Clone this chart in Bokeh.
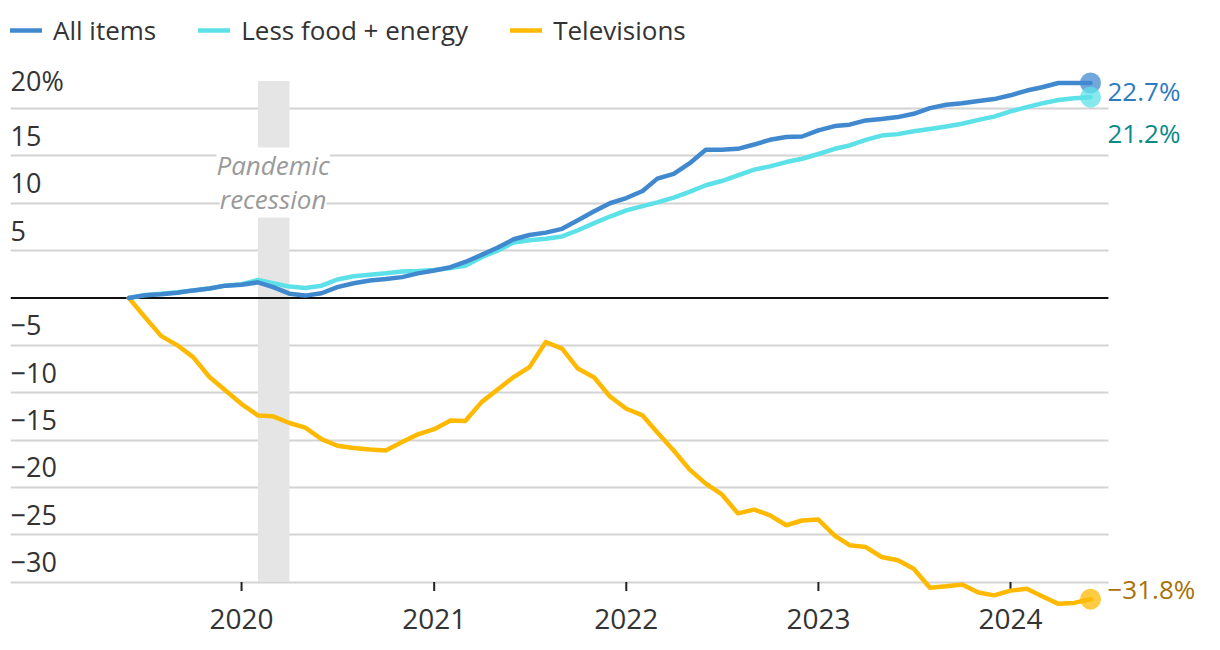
from datetime import datetime
import pandas as pd
from bokeh.plotting import figure
from bokeh.models import (Range1d, FixedTicker, DatetimeTickFormatter, Label, Grid,
                          Legend, LegendItem, ColumnDataSource)
from bokeh.core.properties import value
from bokeh.embed import file_html
from bokeh.resources import INLINE

# ---------------- data (cumulative % change since June 2019, monthly) ----------------
start_month = "2019-06-01"
n_months = 61
all_items = [0, 0.3, 0.4, 0.55, 0.8, 1.0, 1.3, 1.4, 1.65, 1.15, 0.45, 0.25, 0.5, 1.15, 1.55,
             1.85, 2.0, 2.2, 2.6, 2.9, 3.25, 3.8, 4.55, 5.3, 6.2, 6.65, 6.9, 7.3, 8.2, 9.15,
             10.0, 10.55, 11.3, 12.6, 13.1, 14.2, 15.65, 15.65, 15.75, 16.2, 16.7, 17.0, 17.05,
             17.7, 18.15, 18.3, 18.75, 18.9, 19.1, 19.45, 20.05, 20.4, 20.55, 20.8, 21.0, 21.4,
             21.9, 22.25, 22.7, 22.7, 22.7]
less_food_energy = [0, 0.3, 0.45, 0.6, 0.8, 1.0, 1.3, 1.45, 1.9, 1.55, 1.2, 1.05, 1.3, 1.95,
                    2.3, 2.45, 2.6, 2.8, 2.85, 2.95, 3.15, 3.4, 4.3, 5.0, 5.85, 6.1, 6.25, 6.5,
                    7.15, 7.9, 8.6, 9.25, 9.7, 10.1, 10.6, 11.2, 11.9, 12.35, 12.95, 13.55, 13.9,
                    14.35, 14.7, 15.2, 15.75, 16.1, 16.7, 17.15, 17.3, 17.6, 17.85, 18.1, 18.4,
                    18.8, 19.15, 19.7, 20.15, 20.55, 20.9, 21.1, 21.2]
televisions = [0, -2.0, -4.0, -5.0, -6.25, -8.35, -9.75, -11.2, -12.4, -12.5, -13.2, -13.7,
               -14.9, -15.6, -15.85, -16.0, -16.1, -15.2, -14.4, -13.85, -12.95, -13.0, -11.0,
               -9.7, -8.35, -7.3, -4.65, -5.35, -7.45, -8.4, -10.4, -11.7, -12.4, -14.2, -16.1,
               -18.1, -19.6, -20.7, -22.75, -22.35, -22.95, -24.0, -23.5, -23.4, -25.1, -26.1,
               -26.3, -27.35, -27.7, -28.6, -30.6, -30.45, -30.25, -31.1, -31.4, -30.9, -30.7,
               -31.5, -32.3, -32.2, -31.8]

series_names = ["All items", "Less food + energy", "Televisions"]
end_labels = ["22.7%", "21.2%", "\u221231.8%"]
y_ticks = [20, 15, 10, 5, -5, -10, -15, -20, -25, -30]
y_tick_labels = ["20%", "15", "10", "5", "\u22125", "\u221210", "\u221215", "\u221220", "\u221225", "\u221230"]
year_ticks = [2020, 2021, 2022, 2023, 2024]
recession_start = "2020-02-01"
recession_end = "2020-04-01"
recession_label = ["Pandemic", "recession"]

# ---------------- styles ----------------
FONT = "Open Sans"
C_ALL = "#4189CF"
C_CORE = "#5CE1E8"
C_TV = "#FFB900"
TXT = "#333333"

months = pd.date_range(start_month, periods=n_months, freq="MS")
src = ColumnDataSource(dict(x=months, a=all_items, c=less_food_energy, t=televisions))

x_start = pd.Timestamp("2018-10-19")
x_end = pd.Timestamp("2025-01-15")
grid_end = pd.Timestamp("2024-07-05")

p = figure(frame_width=1200, frame_height=610, output_backend="svg", toolbar_location=None,
           x_axis_type="datetime",
           x_range=Range1d(x_start, x_end),
           y_range=Range1d(-33.0, 31.41),
           min_border_left=10, min_border_right=10, min_border_top=0, min_border_bottom=32)
p.outline_line_color = None
p.background_fill_color = "white"
p.border_fill_color = "white"

# grid (limited to the plotting area left of the end labels)
p.xgrid.visible = False
p.yaxis.visible = False
p.ygrid.visible = False
has_cross = "cross_bounds" in Grid.properties()
if has_cross:
    g = Grid(dimension=1, ticker=FixedTicker(ticks=y_ticks), grid_line_color="#d3d3d3",
             grid_line_width=2, cross_bounds=(x_start.value // 10**6, grid_end.value // 10**6))
    p.add_layout(g)
else:
    p.segment(x0=[x_start] * len(y_ticks), x1=[grid_end] * len(y_ticks), y0=y_ticks, y1=y_ticks,
              line_color="#d3d3d3", line_width=2)

# recession band
p.quad(left=[pd.Timestamp(recession_start)], right=[pd.Timestamp(recession_end)],
       bottom=[y_ticks[-1]], top=[22.9], fill_color="#e5e5e5", line_color=None)

# zero line
p.segment(x0=[x_start], x1=[grid_end], y0=[0], y1=[0], line_color="#111111", line_width=2)

# year tick marks
year_dates = [pd.Timestamp(f"{y}-01-01") for y in year_ticks]
p.segment(x0=year_dates, x1=year_dates, y0=[y_ticks[-1]] * len(year_dates),
          y1=[y_ticks[-1] - 0.95] * len(year_dates), line_color="#222222", line_width=2)

# y labels inside plot
p.text(x=[x_start] * len(y_ticks), y=y_ticks, text=y_tick_labels,
       text_font=value(FONT), text_font_size="27px", text_color=TXT,
       text_align="left", text_baseline="bottom", y_offset=-10)

# recession label
for txt, yv in zip(recession_label, [14.0, 10.4]):
    p.add_layout(Label(x=pd.Timestamp("2020-03-01"), y=yv, text=txt, text_font=FONT,
                       text_font_size="26px", text_font_style="italic", text_color="#9a9a9a",
                       text_align="center", text_baseline="middle",
                       background_fill_color="white", background_fill_alpha=1.0))

# lines
r_tv = p.line("x", "t", source=src, line_color=C_TV, line_width=4.5, line_join="round", line_cap="round")
r_core = p.line("x", "c", source=src, line_color=C_CORE, line_width=4.5, line_join="round", line_cap="round")
r_all = p.line("x", "a", source=src, line_color=C_ALL, line_width=4.5, line_join="round", line_cap="round")

# end markers and labels
last_x = months[-1]
for vals, col, lab, lcol, yoff in [
        (all_items, C_ALL, end_labels[0], "#2f7bc2", -8),
        (less_food_energy, C_CORE, end_labels[1], "#0b8a8c", -36),
        (televisions, C_TV, end_labels[2], "#a87208", 10)]:
    p.scatter(x=[last_x], y=[vals[-1]], size=21, fill_color=col, fill_alpha=0.75, line_color=None)
    p.add_layout(Label(x=last_x, y=vals[-1], text=lab, text_font=FONT, text_font_size="26px",
                       text_color=lcol, text_align="left", text_baseline="middle",
                       x_offset=17, y_offset=yoff))

# x axis
p.xaxis.ticker = FixedTicker(ticks=[d.value // 10**6 for d in year_dates])
p.xaxis.formatter = DatetimeTickFormatter(years="%Y", months="%Y", days="%Y", hours="%Y",
                                          minutes="%Y", seconds="%Y", milliseconds="%Y")
p.xaxis.axis_line_color = None
p.xaxis.major_tick_line_color = None
p.xaxis.minor_tick_line_color = None
p.xaxis.major_label_standoff = -8
p.xaxis.major_label_text_font = FONT
p.xaxis.major_label_text_font_size = "28px"
p.xaxis.major_label_text_color = TXT

# legend (inside the frame, at its top-left; screen units from the frame's bottom-left)
legend = Legend(items=[LegendItem(label=series_names[0], renderers=[r_all]),
                       LegendItem(label=series_names[1], renderers=[r_core]),
                       LegendItem(label=series_names[2], renderers=[r_tv])],
                orientation="horizontal", location=(0, 562),
                label_text_font=FONT, label_text_font_size="26px", label_text_color=TXT,
                glyph_width=32, glyph_height=20, label_standoff=11, spacing=42,
                padding=0, margin=0, border_line_alpha=0, background_fill_alpha=0)
p.add_layout(legend, "center")

open("out.html", "w").write(file_html(p, INLINE))
